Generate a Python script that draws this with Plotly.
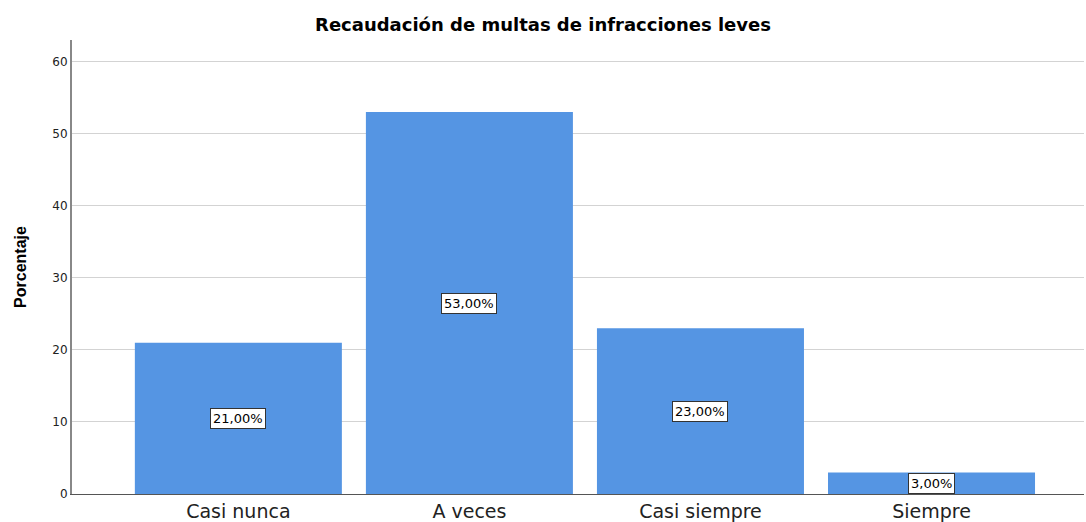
import plotly.graph_objects as go

# data
categories = ["Casi nunca", "A veces", "Casi siempre", "Siempre"]
percentages = [21, 53, 23, 3]
y_ticks = [0, 10, 20, 30, 40, 50, 60]

BAR = "#5595E3"
GRID = "#D3D3D3"
TEXT = "#222222"
WIDE = "DejaVu Sans, Arial, sans-serif"

fig = go.Figure()
fig.add_trace(go.Bar(
    x=categories,
    y=percentages,
    width=0.896,
    marker=dict(color=BAR, line=dict(width=0)),
    hoverinfo="skip",
))

# boxed value labels in the middle of each bar
for cat, val in zip(categories, percentages):
    fig.add_annotation(
        x=cat, y=val / 2,
        text=f"{val:.2f}%".replace(".", ","),
        showarrow=False,
        font=dict(family=WIDE, size=13, color="#000000"),
        bgcolor="#FFFFFF",
        bordercolor="#333333",
        borderwidth=1,
        borderpad=2,
    )

fig.update_layout(
    width=1086, height=522,
    plot_bgcolor="#FFFFFF",
    paper_bgcolor="#FFFFFF",
    margin=dict(l=72, r=2, t=40, b=28),
    showlegend=False,
    font=dict(family=WIDE, color=TEXT),
    title=dict(
        text="<b>Recaudación de multas de infracciones leves</b>",
        x=0.5, xanchor="center", y=0.952, yanchor="middle",
        font=dict(size=18, color="#000000"),
    ),
)
fig.update_xaxes(
    range=[-0.72, 3.66],
    automargin=False,
    showgrid=False,
    showline=True, linecolor="#555555", linewidth=1,
    ticks="",
    tickfont=dict(size=19, color=TEXT),
)
fig.update_yaxes(
    range=[0, 63],
    automargin=False,
    tickvals=y_ticks,
    showgrid=True, gridcolor=GRID, gridwidth=1,
    zeroline=False,
    showline=True, linecolor="#888888", linewidth=2,
    ticks="",
    tickfont=dict(size=12, color=TEXT),
    title=dict(text="<b>Porcentaje</b>",
               font=dict(family="Arial, Liberation Sans", size=16, color="#000000"),
               standoff=22),
)

# drop the page margin so the figure sits flush with the window
fig.write_html("out.html",
               config={"displayModeBar": False},
               post_script="document.body.style.margin='0';document.body.style.overflow='hidden';")
